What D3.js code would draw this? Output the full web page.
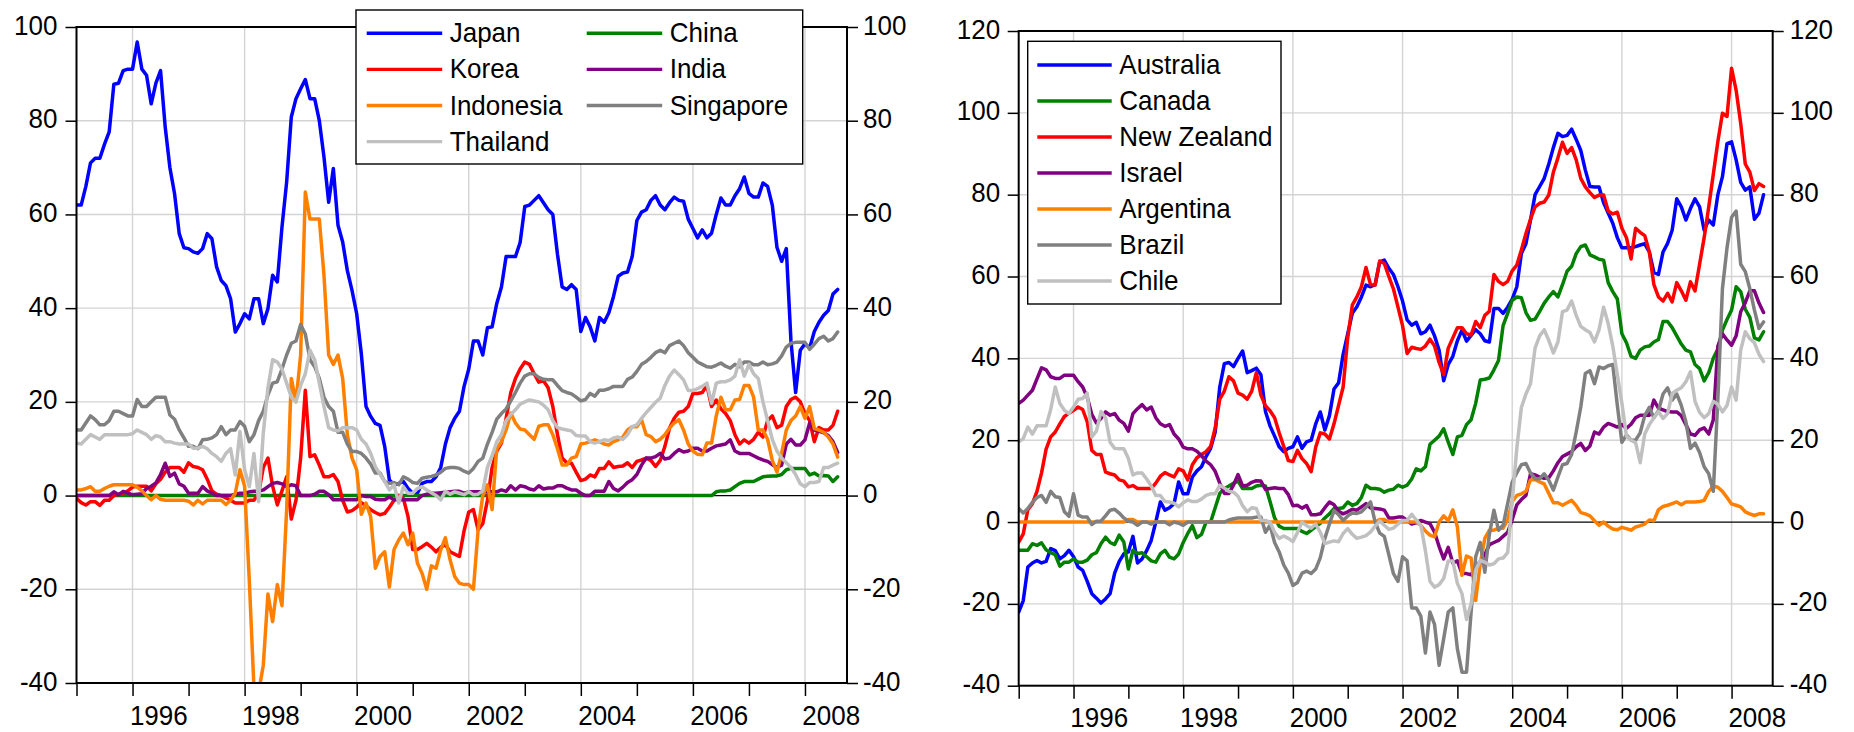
<!DOCTYPE html>
<html>
<head>
<meta charset="utf-8">
<script src="https://cdn.jsdelivr.net/npm/d3@7"></script>
<style>
  html, body { margin: 0; padding: 0; background: #ffffff; }
  svg { display: block; }
  text { font-family: "Liberation Sans", Arial, "DejaVu Sans", sans-serif; fill: #000; }
</style>
</head>
<body>
<svg id="chart" width="1854" height="732"></svg>
<script>
// ---------------- DATA (monthly, Jan 1995 .. Aug 2008) ----------------
const startYear = 1995;          // first observation: 1995:01
const axisEndYear = 2008.75;     // right end of the time axis
const yearTicks = [1995,1996,1997,1998,1999,2000,2001,2002,2003,2004,2005,2006,2007,2008];
const yearLabels = [1996,1998,2000,2002,2004,2006,2008];
const leftTicks = [-40,-20,0,20,40,60,80,100];
const rightTicks = [-40,-20,0,20,40,60,80,100,120];

// Left panel: Asia
const japan = [
  62,62,66,71,72,72,75,77.6,87.8,88,90.7,91,
  91,96.8,91,89.7,83.6,88,90.7,78.6,70,64.4,55.9,52.9,
  52.7,52,51.7,52.7,55.9,54.8,48.8,45.9,44.8,42,34.9,36.7,
  38.8,37.7,42,42,36.7,39.9,47,45.6,57.3,66.9,80.8,84.7,
  86.8,88.8,84.7,84.7,80,72.2,62.6,69.8,57.7,54.1,48,43.8,
  38.8,30.2,19,16.9,15.4,15,10.5,3.3,2.3,2.6,3,1.5,
  0.5,0.5,2.6,3,3,4,6,11,14.5,16.5,18,23.3,
  27,33,33,30,35.8,36,41,44.5,51,51,51,54,
  61.7,62,63,64,62.5,61,60,51.5,44.5,44,45,44,
  35,38,36,33,38,37,39,42.5,46.8,47.5,47.7,51,
  58.7,60.5,61,63,64,62,61,62.5,63.7,63,62.8,59,
  57,55,56.7,55,56,60,63.5,62,62,64,65.5,68,
  64.5,63.7,63.7,66.7,66,62,53,50,52.7,33,22,31,
  32.4,31.5,35,37,38.5,39.5,43,44
];
const china = [
  0,0,0,0,0,0,0,0,0,0,0,0,
  0,0,0,0,0,0,0,0,0,0,0,0,
  0,0,0,0,0,0,0,0,0,0,0,0,
  0,0,0,0,0,0,0,0,0,0,0,0,
  0,0,0,0,0,0,0,0,0,0,0,0,
  0,0,0,0,0,0,0,0,0,0,0,0,
  0,0,0,0,0,0,0,0,0,0,0,0,
  0,0,0,0,0,0,0,0,0,0,0,0,
  0,0,0,0,0,0,0,0,0,0,0,0,
  0,0,0,0,0,0,0,0,0,0,0,0,
  0,0,0,0,0,0,0,0,0,0,0,0,
  0,0,0,0,0,0.8,1,1,1.2,1.9,2.6,3,
  3,3,3.5,4,4.1,4.2,4.2,4.5,5.5,5.8,5.8,5.8,
  5.8,4.4,4.8,4.2,4.3,4.2,3,4
];
const korea = [
  -0.6,-1.5,-2,-1.3,-1.3,-2.1,-1,-1,0,0.3,0.5,1,
  1.8,2,2,2,1,2.5,3.5,5,6,6,6,5,
  7,6.2,6,5.5,3.5,1,0.3,0,-0.5,-1,-1.6,-1.6,
  -1.6,-1,-1,0.5,6,8,2,-2,1,4,-5,-1,
  8,22.5,8.3,8.7,6.5,4,4,4.5,3,-1,-3.5,-3.2,
  -2.5,-1.5,-2.2,-3,-3.6,-4.1,-3.8,-2.5,-1,0,-0.6,-4.5,
  -11.5,-11.5,-10.9,-10.2,-11,-12,-11,-10.5,-12,-12.5,-13,-7.5,
  -3.5,-3,-7.3,-6,-1,6,9.5,11.2,16.5,22,25,27,
  28.5,28,26,24.2,24.5,23,19,13,8,7,6.9,5,
  3.2,3.5,4.4,4,5.8,5.8,7.2,6,6.2,6.3,7,6,
  7.3,7.6,8,7.5,6.2,7.5,10.5,14.4,16.5,17.8,18,19,
  21.8,21.8,22,23.5,19,20.4,18.5,17.5,16,13,11,11.9,
  11.2,12,13.5,12.5,16,17,14.5,15,19,20.5,21,20,
  17.5,16,11.5,14.5,14,14,15,18
];
const india = [
  0,0,0,0,0,0,0,0,0.8,0.2,0.9,0.5,
  0.2,0.3,0.4,1.5,2,2.7,4.5,6.9,4.1,4.8,2.5,2,
  0.5,0.5,0.5,1.9,1,0.5,0,0,0,0,0.3,0.5,
  0.5,0.8,0.9,0.9,1.2,1.9,2.6,2.8,2.5,1.9,2.3,2.1,
  0,0,0,0.3,0.9,0.9,0.2,-0.9,-0.9,-0.9,-0.9,-0.9,
  -0.9,0,-0.2,-0.2,-0.8,-0.9,-0.9,-0.3,-0.9,-0.9,-0.9,-0.9,
  -0.9,-0.9,0,0.3,0.5,0.5,0.6,0.7,0.8,0.9,0.9,0.5,
  0.8,0.8,0.8,0.8,0.8,0.8,0.8,1.2,0.9,2.1,1.2,2.1,
  1.9,1.4,1.2,2.1,1.4,1.6,1.6,2.1,2.1,1.6,1.2,1.2,
  0.5,0,0,0.9,0.9,0.9,3,1.5,1,1.8,2.8,3.4,
  4.5,6.5,8,8,8.3,9,7.8,8,9,9.8,9.3,9.5,
  10.1,10.1,9.5,9.5,10.1,10.6,10.8,11,11.9,9.5,9,9,
  9,8.5,8,7.6,7.3,6.6,6,6.5,11,12,10.8,10.8,
  11.9,15.5,14,13.7,13.4,12.8,11.5,9.2
];
const indonesia = [
  1.2,1.2,1.5,1.9,0.9,0.9,1.5,2,2.3,2.3,2.3,2.3,
  2.3,1.8,1,0,-0.9,0,-0.8,-1,-1,-1,-1,-1,
  -1.2,-2,-1,-1.8,-1,-1,-1,-1,-1.9,-1,0.5,5.5,
  2,-18,-41,-42,-36.2,-21,-26.9,-19,-23.5,-3,25,20,
  30,64.8,59,59,59,47,30,28,30,25,13,8,
  5.5,-4,-1.6,-4.5,-15.5,-13,-12,-19.5,-11.5,-9.5,-8,-10.5,
  -8,-14.4,-16.6,-20,-15,-15.5,-11.6,-9,-13.7,-17.3,-18.7,-19,
  -19,-20,-7.3,0,2.3,-3,10,11.5,14,17.6,15.5,14.2,
  14,13,12,14.8,15.1,15.1,13,10,6.5,6.5,8,8.3,
  11,11.2,11.5,11.9,11.5,11,10.8,11.5,11.9,12.5,14,14.7,
  14.7,16.2,13,12.6,11.5,12,13,14.4,15.5,16.2,14,11,
  9.5,8.8,8.7,11.2,11.2,17,21,18.3,18.3,20.4,20.5,23.5,
  23.5,21,14,14,12,7.5,5,9,14,16,17,19,
  16.5,19,14.3,14,13.5,12.5,11,8.2
];
const singapore = [
  14,14,15.5,17,16.2,15.1,15.1,16,18,18,17.5,17,
  17,20.5,19,19,20,21,21,21,17.2,16.3,14,12.3,
  10.5,10.5,10,11.9,12,12.3,13,14.7,13,14,14,15.8,
  14.8,11.5,13,16,18,21.5,24,24.3,27,30,32.5,33,
  36.5,34.5,29,27.5,25,21,19,18,13.5,13.5,11,9.4,
  9.4,9,8,6.7,4.8,4.8,3,2.6,2.8,2.3,4,3.5,
  2.8,2.6,3.7,3.9,4.1,4.4,5,5.8,6,6,5.8,5.2,
  4.8,5.8,7.3,8,11,13.5,16.3,17.5,18.5,20.2,22,24,
  25.5,26,26,25.2,24.8,24.7,24.7,23.5,22.4,22,21.7,21,
  20.2,20.5,21.8,21.2,22.5,22.5,22.8,23.3,23.3,23.3,24.8,25.3,
  26.5,28,28.6,29.5,30.5,31,30.5,32,32.5,33,32,30.5,
  29.5,28.5,28,27.5,27.4,27.8,28.3,27.6,27.2,28,27.5,28.5,
  28.5,27.9,27.9,28.5,27.9,28.1,28.5,29.8,31.7,32.5,32.7,32.7,
  32.7,31.2,32.3,33.5,34,33,33.5,34.9
];
const thailand = [
  11.2,11,12,13,12.5,12,13,13,13,13,13,13,
  13.2,14,13.5,13,12,12.8,12.5,11.5,11.5,11.2,11,11,
  11,10.1,10.1,10.5,10,9,8.3,7.3,9,10,4.4,13.7,
  5.5,1.9,9,-1.3,13.3,23,29,28.5,27,24,21,20,
  23.5,26,31,29,24,19,14.5,14,13.8,14.5,14.5,14.5,
  14,12,11,9,6.2,4.5,3,1.2,2.3,-1.6,1.9,0.5,
  0.5,1.5,1.9,1.2,0.6,0,-0.9,0.9,0.3,0.8,0.5,0.2,
  0.8,0.2,0.3,1,6,8.5,11.5,13,16,17.3,18.3,19.5,
  20,20.4,20.2,20,19.3,18.3,16,14.5,14.2,14,13.8,12.8,
  12.7,12.7,11.5,11.2,11.5,11.9,11.7,12.3,12.5,12,13,14.7,
  15.1,16.5,17.7,18.8,19.9,20.8,23.5,25.5,26.8,25.8,24.7,22.4,
  22.4,22.8,23.3,24,19.7,24,24.3,24.3,24.7,25.5,29,25.5,
  28,26,25,20,16,12,9.5,8,7,6,4.5,2.5,
  1.9,2.8,2.8,3,6,6,6.5,6.9
];

// Right panel: other economies
const australia = [
  -22,-19.2,-11,-10,-9.4,-10,-9.6,-6.5,-7,-9,-8.2,-6.9,
  -8.5,-11,-11.8,-14.5,-17.5,-18.6,-19.8,-18.8,-17.5,-12.5,-9.6,-7.8,
  -7.3,-3.5,-10,-9,-7,-4.5,0,4.9,2.9,3.5,4.5,9.8,
  6.9,6.9,11,12.5,13.5,16,18,22,33,38.7,39,38,
  40,41.8,36.5,37,37.6,36,27,23.5,21,18.4,17.2,18,
  18.4,20.8,18,19.6,20,24,26.9,22.5,26,32.5,34,41,
  46,51,52.6,55,57.9,57.5,58,63.6,64,62,60.5,57.5,
  54,49.4,48.1,48.8,46,46.5,48.1,45.5,42,34.5,38.5,40.5,
  44.3,46.9,44.2,45.6,47,46,44.3,44,52.2,52.2,51,52.5,
  54.5,57.5,65.6,68,73.8,80,82,84,87.5,91.5,95,94.2,
  94.5,96,93.5,90.8,86,82,81.9,81.9,78,75.5,73,69.5,
  67,67,67,67.3,67.7,68,66,61,60.5,66,68.1,71.3,
  79,77,73.8,76.6,79,77,71.3,73.8,72.6,80,84.4,92.5,
  92.9,88.5,83,81.1,81.9,74,75.5,80
];
const canada = [
  -6.9,-6.9,-6.9,-5.3,-5.7,-5.1,-6.8,-7.5,-8,-10.8,-9.8,-9.8,
  -9,-9.8,-9.8,-9.3,-8,-7.5,-5.3,-3.7,-5,-5.5,-3.2,-4.9,
  -11.5,-6.9,-7.7,-7.5,-8.5,-9.5,-9.8,-7.8,-6.9,-8.6,-9,-7.8,
  -5,-2.8,-0.9,-3.8,-3,0,0,3.5,7,8.2,8.8,9.5,
  10,8.2,8.2,8.2,8.8,9,8.8,5,1,-1,-1.6,-1.6,
  -1.6,-1.6,-2.3,-2.8,-2,-1.1,-0.3,1,2,3.3,3.3,3.5,
  4.9,4.1,4.5,6,9,8.2,8.2,8,7.3,7.8,8,9,
  8.5,9,10.5,13,12.5,13.5,19,20,21,22.8,19.5,16.5,
  20.8,21.2,23.8,25,29,34.7,34.9,35.2,37.2,39.5,48,51,
  54.2,55,54.8,51.2,49.3,49.6,51.5,53.5,55,56.3,55,58,
  61.3,62.5,65.6,67.3,67.7,65.3,64.8,64.2,64,58.5,56.3,54.5,
  46,43.8,40.5,40,42,42.8,43,44,44.6,49,49,47.5,
  45.5,43.5,42,41.6,38.5,37.5,34.5,36.5,40,42.3,46.9,49.5,
  51.8,57.5,56.3,52,50,45,44.5,46.5
];
const newZealand = [
  -4.9,-2.9,3,4.5,7.5,12,17.8,20.8,22,24,25.8,26.6,
  27.3,28.1,27.5,24.5,17.5,16.5,16.5,12.2,11.8,11.5,10.3,10,
  8.6,8.9,8.2,8.2,8.2,8.2,9.5,11.2,12.1,11.5,11,13,
  12.5,10.3,14,15.7,16.5,17.2,18.5,23,30,32,35.5,34.5,
  31.5,31,30,32,36.5,31,28.4,27.2,25.5,21.8,18.5,15,
  14.8,17.5,15.5,14.3,12.3,18.3,21.8,21.5,20.3,24,28.5,33,
  45,53,55,57.5,62.2,58,57.9,63.8,63.2,60,57,52.5,
  48,41.2,42.7,42.4,42.2,43,44.7,43,39,36,42.5,45,
  47.5,47.5,46,45.7,49,47.5,50.5,51.5,60.5,58.8,58,58.8,
  61.4,62.8,66.5,70.5,74,77,77.9,78.2,79.9,85.5,89,92.8,
  90.1,91.5,88.5,84,81.9,80.5,79.3,79.9,79.9,76,75.3,75.7,
  71.8,69.5,64.3,71.8,70.8,70,66,58,55,54,55.9,53.8,
  58.5,56.5,54.2,58.7,56.5,63,69.5,77,85,93,99.9,99.1,
  110.9,105.5,97.4,87.5,85.5,81,82.7,82
];
const israel = [
  29,29.8,31,32.2,35,37.7,37.2,35.5,35.1,35.1,35.9,35.9,
  35.9,34.3,33,30.5,26.3,24.2,25.3,26.9,26.1,26.5,24.9,24.1,
  22.2,26.5,27.7,28.7,27.4,28.1,25.5,24,23.4,23.8,21.5,20.3,
  18.3,17.9,17.9,17.3,16.2,14.9,14,12.4,9.5,7,7,9,
  11.6,8.8,9,9.7,10.1,10,8,8.2,8.4,8.2,8.2,6.7,
  4,4.1,3.4,4,1.8,1.8,2,3.5,4.9,4.2,2.6,2,
  2.5,3.1,2.9,3.7,4.5,3.4,3.3,3.2,2.9,1,1,1.2,
  1.2,0.4,-0.5,-0.2,0.4,0,-0.4,-2.5,-6,-9,-6.2,-10,
  -9.5,-12.6,-12.6,-12.9,-11,-9.6,-8,-5.5,-5,-4.5,-3.5,-2.5,
  0.6,4.2,5.5,6.5,11.8,11.5,11,10.7,10.8,12.5,14.5,16,
  16.6,17.2,18.4,19.2,17.5,18.6,22,21.5,23.2,24.1,23.7,23.2,
  23.8,22.9,23.9,25.5,26.1,26.1,26.1,29.8,27.8,27.4,27,26.9,
  26.9,26,23.8,21.5,21.2,22.5,23,21.5,25,43,46,44.5,
  43.2,45.5,51.4,53.6,56.5,56.5,53.5,51.2
];
const argentina = [
  0,0,0,0,0,0,0,0,0,0,0,0,
  0,0,0,0,0,0,0,0,0,0,0,0,
  0.6,0.6,0,0,0,0,0,0,0,0,0,0,
  0,0,0,0,0,0,0,0,0,0,0,0,
  0,0,0,0,0,0,0,0,0,0,0,0,
  0,0,0,0,0,0,0,0,0,0,0,0,
  0,0,0,0,0,0,0,0.6,0.6,0,0,0,
  0,0,0,0,-0.8,-2.2,-3.2,-3.6,0,1.5,0.3,3,
  -1.2,-13,-8.3,-8.8,-19.2,-10.2,-4,-2,-2,-1.5,-1.5,0.5,
  5,6.5,6.9,7.5,10.3,10.4,9.8,9.3,7,4.7,4.7,4.1,
  4.7,5.3,4,2.3,2,1.5,0.3,-0.8,0,-1,-1.7,-1.9,
  -1.3,-1.6,-2,-1.2,-0.9,-0.5,0.5,0.3,3,3.8,4.1,4.5,
  4.9,4.2,4.9,4.9,4.9,5,5.3,7.5,8.8,8.5,7.5,6,
  4.4,4.1,3.7,2.5,2,1.6,2,2
];
const brazil = [
  3.3,2.2,3.3,4.8,6,6.5,4.8,7.5,6.2,6,2.5,1.4,
  6.9,1.7,1.2,1.2,-0.6,0.2,0.2,1.5,2.9,3.1,2.2,1,
  0.2,0,-0.8,0,0,-0.5,0,0,0,-0.7,0,-0.3,
  -0.8,0,0,0,0,0,0,0,0,0,0.5,0.8,
  1,1,1,1,1.2,1.2,-2.5,-0.8,-5,-7.3,-10.5,-12.5,
  -15.5,-14.8,-12.5,-12,-12.6,-11.5,-8.7,-4,-0.5,2.8,1.8,0.4,
  1.5,2.2,2.1,2.5,3.6,4.9,0,-2.7,-3.5,-8,-12.6,-14.5,
  -8.5,-9.5,-21,-21,-23,-32,-22,-25,-35,-28.5,-22,-21,
  -31,-36.7,-36.7,-22,-8.5,-5,-12.3,-3,2.9,-2,-0.8,4.5,
  9.8,12,14,14.3,12,10.6,10.6,11.8,10.2,7.8,11,14,
  14.3,16.5,22,28.1,36.3,37,33.8,37.9,37.5,38.2,38.5,28.5,
  19.5,21.3,20,20,21.8,26,28,25.5,27.2,31.3,32.8,29.8,
  31.3,28.5,24.5,18,19.3,17,13.5,11.8,7.5,30,57,67,
  74.5,76,63,61.2,57,51.8,47.3,48.9
];
const chile = [
  19.6,20.4,23.2,21.5,23.5,23.5,23.5,27.5,33,29,27.3,26.5,
  28.1,30,30.2,31.5,20.8,22.2,27,25.5,19.5,18,17.9,17.9,
  15.5,11.5,12,12,10.5,8.8,6.5,6.5,5,4.9,4.6,3.7,
  4.7,5.4,5,5,5.6,6.5,6.9,6.9,9,8.3,7.5,7.3,
  6.3,4,2.5,3.5,3.3,0.4,0.4,0,-2.5,-4,-3.4,-4,
  -4.8,-2.6,0,-0.9,-1.5,-0.5,-2.5,-5.3,-4.9,-4.6,-4.8,-2.8,
  -1.6,-3,-4,-3.7,-3.3,-2.4,-1,0.3,-0.8,-1.8,-1.5,-0.5,
  0.4,0.4,1.9,0.5,-0.8,-7,-14.5,-15.9,-15.3,-13.8,-9.5,-9.5,
  -15,-17.5,-23.8,-20,-11.8,-9.4,-9.8,-10.5,-10.2,-9,-8.8,-7.5,
  5,18,28,31.3,33.8,42.5,45.5,47,44.4,41.3,44,51.4,
  51.8,54,50.5,47.8,47,46.3,44,47,52.5,48.5,43,36,
  29,21,20,19.4,14.5,21.5,23.8,25.5,27,25.3,26.5,31.4,
  32.2,32.8,34.3,36.7,29.5,26.8,25.5,26.5,29.5,28.8,26.9,28.5,
  33,29.8,42,46.5,44.8,43.8,41,39.2
];

const leftNames  = ["Japan","China","Korea","India","Indonesia","Singapore","Thailand"];
const leftSeries = [japan, china, korea, india, indonesia, singapore, thailand];
const leftColors = ["#0000ff","#008000","#ff0000","#800080","#ff8000","#808080","#c0c0c0"];

const rightNames  = ["Australia","Canada","New Zealand","Israel","Argentina","Brazil","Chile"];
const rightSeries = [australia, canada, newZealand, israel, argentina, brazil, chile];
const rightColors = ["#0000ff","#008000","#ff0000","#800080","#ff8000","#808080","#c0c0c0"];

// ---------------- DRAWING ----------------
const svg = d3.select("#chart");
svg.append("rect").attr("width", 1854).attr("height", 732).attr("fill", "#fff");

const BASE_FONT = 26;     // nominal text size
const V_STRETCH = 1.08;   // text in the original is slightly taller than wide
const fmtNum = d => (d < 0 ? "-" + Math.abs(d) : String(d));

function drawPanel(cfg) {
  const g = svg.append("g");
  const x = d3.scaleLinear().domain([startYear, axisEndYear]).range([cfg.left, cfg.right]);
  const y = d3.scaleLinear().domain(cfg.yDomain).range([cfg.bottom, cfg.top]);

  // grid
  g.append("g").selectAll("line")
    .data(cfg.yTicks.filter(v => v !== cfg.yDomain[0] && v !== cfg.yDomain[1] && v !== 0))
    .join("line")
    .attr("x1", cfg.left).attr("x2", cfg.right)
    .attr("y1", d => y(d)).attr("y2", d => y(d))
    .attr("stroke", "#d4d4d4").attr("stroke-width", 1.4);
  g.append("g").selectAll("line")
    .data(yearLabels)
    .join("line")
    .attr("x1", d => x(d)).attr("x2", d => x(d))
    .attr("y1", cfg.top).attr("y2", cfg.bottom)
    .attr("stroke", "#d4d4d4").attr("stroke-width", 1.4);

  // zero line
  g.append("line")
    .attr("x1", cfg.left).attr("x2", cfg.right)
    .attr("y1", y(0)).attr("y2", y(0))
    .attr("stroke", "#000").attr("stroke-width", 1.2);

  // clip
  const clipId = "clip-" + cfg.id;
  svg.append("clipPath").attr("id", clipId).append("rect")
    .attr("x", cfg.left).attr("y", cfg.top)
    .attr("width", cfg.right - cfg.left).attr("height", cfg.bottom - cfg.top);

  const line = d3.line()
    .x((d, i) => x(startYear + i / 12))
    .y(d => y(d));

  const lines = g.append("g").attr("clip-path", `url(#${clipId})`);
  cfg.series.forEach((s, k) => {
    lines.append("path")
      .datum(s)
      .attr("d", line)
      .attr("fill", "none")
      .attr("stroke", cfg.colors[k])
      .attr("stroke-width", 3.5)
      .attr("stroke-linejoin", "round")
      .attr("stroke-linecap", "round");
  });

  // frame
  g.append("rect")
    .attr("x", cfg.left).attr("y", cfg.top)
    .attr("width", cfg.right - cfg.left).attr("height", cfg.bottom - cfg.top)
    .attr("fill", "none").attr("stroke", "#000").attr("stroke-width", 2);

  // axes
  const styleAxis = sel => {
    sel.select(".domain").remove();
    sel.selectAll(".tick line").attr("stroke", "#000").attr("stroke-width", 1.5);
    sel.selectAll(".tick text").attr("font-size", BASE_FONT).attr("fill", "#000")
      .attr("class", "stretch")
      .style("font-family", '"Liberation Sans", Arial, sans-serif');
  };

  g.append("g").attr("transform", `translate(${cfg.left},0)`)
    .call(d3.axisLeft(y).tickValues(cfg.yTicks).tickSize(11).tickPadding(cfg.leftPad).tickFormat(fmtNum))
    .call(styleAxis)
    .call(s => s.selectAll(".tick text").attr("dy", "0.25em"));

  g.append("g").attr("transform", `translate(${cfg.right},0)`)
    .call(d3.axisRight(y).tickValues(cfg.yTicks).tickSize(11).tickPadding(cfg.rightPad).tickFormat(fmtNum))
    .call(styleAxis)
    .call(s => s.selectAll(".tick text").attr("dy", "0.25em"));

  g.append("g").attr("transform", `translate(0,${cfg.bottom})`)
    .call(d3.axisBottom(x).tickValues(yearTicks).tickSize(13).tickFormat(""))
    .call(styleAxis);

  g.append("g").attr("transform", `translate(0,${cfg.bottom})`)
    .call(d3.axisBottom(x).tickValues(yearLabels.map(v => v + 0.46)).tickSize(0)
      .tickPadding(cfg.labelPad).tickFormat(d => String(Math.floor(d))))
    .call(styleAxis);

  // legend
  const L = cfg.legend;
  const lg = g.append("g");
  lg.append("rect").attr("x", L.x).attr("y", L.y).attr("width", L.w).attr("height", L.h)
    .attr("fill", "#fff").attr("stroke", "#000").attr("stroke-width", 1.4);
  cfg.names.forEach((name, k) => {
    const col = k % L.cols, row = Math.floor(k / L.cols);
    const cx = L.colX[col], cy = L.rowY0 + row * L.rowStep;
    lg.append("line").attr("x1", cx).attr("x2", cx + L.lineLen)
      .attr("y1", cy).attr("y2", cy)
      .attr("stroke", cfg.colors[k]).attr("stroke-width", 3.4);
    lg.append("text").attr("class", "stretch")
      .attr("x", cx + L.lineLen + L.textGap).attr("y", cy + 9)
      .attr("font-size", BASE_FONT).text(name);
  });
}

drawPanel({
  id: "left", left: 76.5, right: 847, top: 27, bottom: 683,
  yDomain: [-40, 100], yTicks: leftTicks,
  leftPad: 8, rightPad: 5, labelPad: 22,
  series: leftSeries, colors: leftColors, names: leftNames,
  legend: { x: 356, y: 10, w: 446.7, h: 154, cols: 2, colX: [366.7, 586.7],
            rowY0: 33.3, rowStep: 36.1, lineLen: 75.5, textGap: 7.5 }
});

drawPanel({
  id: "right", left: 1018.7, right: 1772.7, top: 31, bottom: 685.7,
  yDomain: [-40, 120], yTicks: rightTicks,
  leftPad: 7.5, rightPad: 6, labelPad: 21.5,
  series: rightSeries, colors: rightColors, names: rightNames,
  legend: { x: 1027.7, y: 41.3, w: 253.3, h: 262.7, cols: 1, colX: [1037.3],
            rowY0: 65, rowStep: 36, lineLen: 74.4, textGap: 7.6 }
});

// make glyphs slightly taller while keeping their natural width
svg.selectAll("text.stretch").each(function () {
  const w = this.getComputedTextLength();
  this.setAttribute("font-size", BASE_FONT * V_STRETCH);
  this.setAttribute("textLength", w);
  this.setAttribute("lengthAdjust", "spacingAndGlyphs");
});
</script>
</body>
</html>
